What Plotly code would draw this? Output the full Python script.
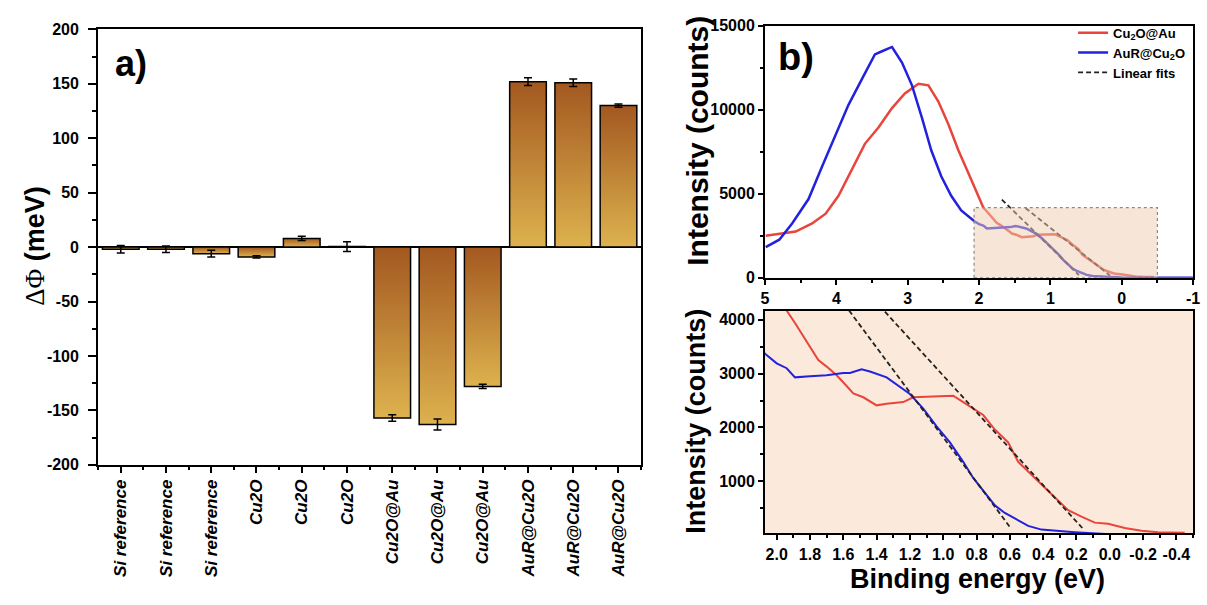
import numpy as np
import plotly.graph_objects as go

# ---------------- panel a: work-function shift per sample ----------------
samples = ["Si reference", "Si reference", "Si reference",
           "Cu2O", "Cu2O", "Cu2O",
           "Cu2O@Au", "Cu2O@Au", "Cu2O@Au",
           "AuR@Cu2O", "AuR@Cu2O", "AuR@Cu2O"]
delta_phi = [-2, -2, -6, -9, 8, 0.5, -157, -163, -128, 152, 151, 130]
delta_phi_err = [3.5, 3, 3, 1, 2, 4.5, 3, 5, 2, 3.5, 3.5, 1.5]
phi_ticks = [-200, -150, -100, -50, 0, 50, 100, 150, 200]

# ---------------- panel b: valence-band spectra ----------------
red_e = [4.99, 4.76, 4.57, 4.34, 4.15, 3.97, 3.78, 3.60, 3.41, 3.22, 3.04, 2.85,
         2.71, 2.57, 2.43, 2.29, 2.15, 2.01, 1.94, 1.89, 1.84, 1.80, 1.75, 1.70,
         1.64, 1.58, 1.54, 1.48, 1.40, 1.34, 1.24, 1.18, 1.10, 1.00, 0.94, 0.88,
         0.82, 0.76, 0.69, 0.61, 0.55, 0.47, 0.39, 0.31, 0.25, 0.17, 0.09, 0.01,
         -0.09, -0.19, -0.29, -0.45]
red_i = [2494, 2610, 2745, 3228, 3808, 4871, 6418, 7964, 8931, 10091, 10961, 11540,
         11444, 10477, 9124, 7578, 6225, 4850, 4170, 3940, 3700, 3490, 3250, 3130,
         2970, 2770, 2630, 2560, 2410, 2440, 2470, 2560, 2570, 2570, 2590, 2470,
         2350, 2230, 1960, 1720, 1360, 1120, 880, 640, 460, 340, 230, 210,
         130, 80, 52, 40]

blue_e = [4.99, 4.80, 4.62, 4.39, 4.20, 4.01, 3.83, 3.64, 3.46, 3.36, 3.22, 3.08,
          2.94, 2.80, 2.67, 2.53, 2.39, 2.25, 2.07, 2.00, 1.94, 1.89, 1.80, 1.70,
          1.60, 1.56, 1.49, 1.44, 1.34, 1.28, 1.20, 1.12, 1.04, 0.96, 0.88, 0.82,
          0.76, 0.69, 0.63, 0.57, 0.49, 0.41, 0.31, 0.21, 0.13, 0.05, 0.00, -0.20,
          -0.50, -1.00]
blue_i = [1817, 2262, 3228, 4678, 6611, 8544, 10284, 11830, 13280, 13470, 13725, 12800,
          11444, 9511, 7578, 6031, 4871, 4001, 3370, 3190, 3100, 2930, 2950, 2968,
          3010, 3010, 3080, 3040, 2930, 2800, 2620, 2350, 2020, 1720, 1360, 1060,
          820, 550, 410, 310, 170, 100, 70, 52, 38, 20, 12, 5,
          3, 2]

# endpoints of the two linear onset fits
fit_blue_e = [1.68, 0.60]
fit_blue_i = [4650, 150]
fit_red_e = [1.35, 0.165]
fit_red_i = [4150, 130]

# zoom window shown in the lower panel
zoom_e = [2.07, -0.50]
zoom_i = [28, 4168]

intensity_ticks_top = [0, 5000, 10000, 15000]
intensity_ticks_low = [1000, 2000, 3000, 4000]

FONT = "Liberation Sans, Arial, sans-serif"
RED = "#E8453C"
BLUE = "#2222DD"
PEACH = "#FBEADB"
BAR_LIGHT = "#DDB24E"
BAR_DARK = "#A35820"
BAR_W = 0.81

fig = go.Figure()

# gradient-filled bars with black outlines
for i, v in enumerate(delta_phi):
    x0, x1 = i - BAR_W / 2, i + BAR_W / 2
    fig.add_trace(go.Scatter(
        x=[x0, x0, x1, x1, x0], y=[0, v, v, 0, 0],
        mode="lines", fill="toself",
        fillgradient=dict(type="vertical",
                          colorscale=[[0, BAR_LIGHT], [1, BAR_DARK]]),
        line=dict(color="black", width=1.5),
        xaxis="x", yaxis="y", showlegend=False, hoverinfo="skip"))

fig.add_trace(go.Scatter(
    x=list(range(len(delta_phi))), y=delta_phi, mode="markers",
    marker=dict(size=1, color="rgba(0,0,0,0)"),
    error_y=dict(type="data", array=delta_phi_err, color="black",
                 thickness=1.5, width=4),
    xaxis="x", yaxis="y", showlegend=False, hoverinfo="skip"))

# upper spectrum panel
fig.add_trace(go.Scatter(x=red_e, y=red_i, mode="lines", name="Cu<sub>2</sub>O@Au",
                         line=dict(color=RED, width=2.5), xaxis="x2", yaxis="y2"))
fig.add_trace(go.Scatter(x=blue_e, y=blue_i, mode="lines", name="AuR@Cu<sub>2</sub>O",
                         line=dict(color=BLUE, width=2.5), xaxis="x2", yaxis="y2"))
fig.add_trace(go.Scatter(x=fit_blue_e, y=fit_blue_i, mode="lines", name="Linear fits",
                         legendgroup="fit",
                         line=dict(color="#222", width=1.8, dash="5px,3px"),
                         xaxis="x2", yaxis="y2"))
fig.add_trace(go.Scatter(x=fit_red_e, y=fit_red_i, mode="lines", name="Linear fits",
                         legendgroup="fit", showlegend=False,
                         line=dict(color="#222", width=1.8, dash="5px,3px"),
                         xaxis="x2", yaxis="y2"))

# lower (zoomed) spectrum panel
fig.add_trace(go.Scatter(x=red_e, y=red_i, mode="lines", showlegend=False,
                         line=dict(color=RED, width=2), xaxis="x3", yaxis="y3"))
fig.add_trace(go.Scatter(x=blue_e, y=blue_i, mode="lines", showlegend=False,
                         line=dict(color=BLUE, width=2), xaxis="x3", yaxis="y3"))
for fe, fi in ((fit_blue_e, fit_blue_i), (fit_red_e, fit_red_i)):
    fig.add_trace(go.Scatter(x=fe, y=fi, mode="lines", showlegend=False,
                             line=dict(color="#222", width=1.8, dash="5px,3px"),
                             xaxis="x3", yaxis="y3"))

tick_font = dict(family=FONT, size=16, color="black", weight="bold")
axis_common = dict(showgrid=False, showline=True, linecolor="black", linewidth=2,
                   mirror=True, ticks="outside", tickcolor="black", tickwidth=2,
                   tickfont=tick_font, zeroline=False, ticklabeloverflow="allow")

be_top = [5, 4, 3, 2, 1, 0, -1]
be_low = [round(v, 1) for v in np.arange(2.0, -0.41, -0.2)]


def minor(t0, dt, ln):
    return dict(tickmode="linear", tick0=t0, dtick=dt, ticklen=ln,
                tickwidth=2, tickcolor="black", ticks="outside")


fig.update_layout(
    width=1207, height=605, margin=dict(l=0, r=0, t=0, b=0),
    paper_bgcolor="white", plot_bgcolor="white",
    font=dict(family=FONT, color="black"),
    xaxis=dict(axis_common, domain=[0.0787, 0.5327], anchor="y",
               range=[-0.5, len(samples) - 0.5],
               tickmode="array", tickvals=list(range(len(samples))), ticktext=samples,
               tickangle=-90, ticklen=6,
               tickfont=dict(tick_font, size=17, style="italic"),
               minor=minor(0.5, 1, 3)),
    yaxis=dict(axis_common, domain=[0.2231, 0.9636], anchor="x",
               range=[-200, 200], tickmode="array", tickvals=phi_ticks,
               ticktext=[f"{v:g}" for v in phi_ticks], ticklen=8,
               ticklabelstandoff=6,
               zeroline=True, zerolinecolor="black", zerolinewidth=1.5,
               minor=minor(0, 25, 4)),
    xaxis2=dict(axis_common, domain=[0.6363, 0.9942], anchor="y2",
                range=[5, -1], tickmode="array", tickvals=be_top,
                ticktext=[f"{v:g}" for v in be_top], ticklen=5,
                minor=minor(0.5, 1, 3)),
    yaxis2=dict(axis_common, domain=[0.5413, 0.9702], anchor="x2",
                range=[0, 15000], tickmode="array",
                tickvals=intensity_ticks_top,
                ticktext=[str(v) for v in intensity_ticks_top], ticklen=5,
                minor=minor(0, 2500, 3)),
    xaxis3=dict(axis_common, domain=[0.6363, 0.9942], anchor="y3",
                range=zoom_e, tickmode="array", tickvals=be_low,
                ticktext=[f"{v:.1f}" for v in be_low], ticklen=5,
                minor=minor(0.1, 0.2, 3)),
    yaxis3=dict(axis_common, domain=[0.1063, 0.4851], anchor="x3",
                range=zoom_i, tickmode="array",
                tickvals=intensity_ticks_low,
                ticktext=[str(v) for v in intensity_ticks_low], ticklen=5,
                minor=minor(500, 1000, 3)),
    legend=dict(x=1197 / 1207, xanchor="right", y=1 - 10 / 605, yanchor="top",
                bgcolor="rgba(0,0,0,0)", borderwidth=0,
                font=dict(family=FONT, size=13, color="black", weight="bold"),
                tracegroupgap=0),
)

# peach background of the zoomed panel and the marked window in the upper panel
fig.add_shape(type="rect", xref="x3 domain", yref="y3 domain", x0=0, x1=1, y0=0, y1=1,
              fillcolor=PEACH, line=dict(width=0), layer="below")
fig.add_shape(type="rect", xref="x2", yref="y2",
              x0=zoom_e[0], x1=zoom_e[1], y0=0, y1=zoom_i[1],
              fillcolor="rgba(240, 205, 175, 0.5)",
              line=dict(color="#8a8a8a", width=1.2, dash="dot"), layer="above")

ann_font = dict(family=FONT, color="black", weight="bold")


def label(px, py, text, size, angle=0):
    fig.add_annotation(x=px / 1207, y=1 - py / 605, xref="paper", yref="paper",
                       xanchor="center", yanchor="middle", text=text,
                       textangle=angle, showarrow=False, font=dict(ann_font, size=size))


label(31, 245, "<span style='font-family:Liberation Serif;font-weight:normal'>ΔΦ</span> (meV)",
      27, -90)
label(700, 137, "Intensity (counts)", 30, -90)
label(698, 425, "Intensity (counts)", 27, -90)
label(982, 587, "Binding energy (eV)", 27)
label(128, 57, "a)", 36)
label(799, 50, "b)", 38)

fig.write_html("out.html")
